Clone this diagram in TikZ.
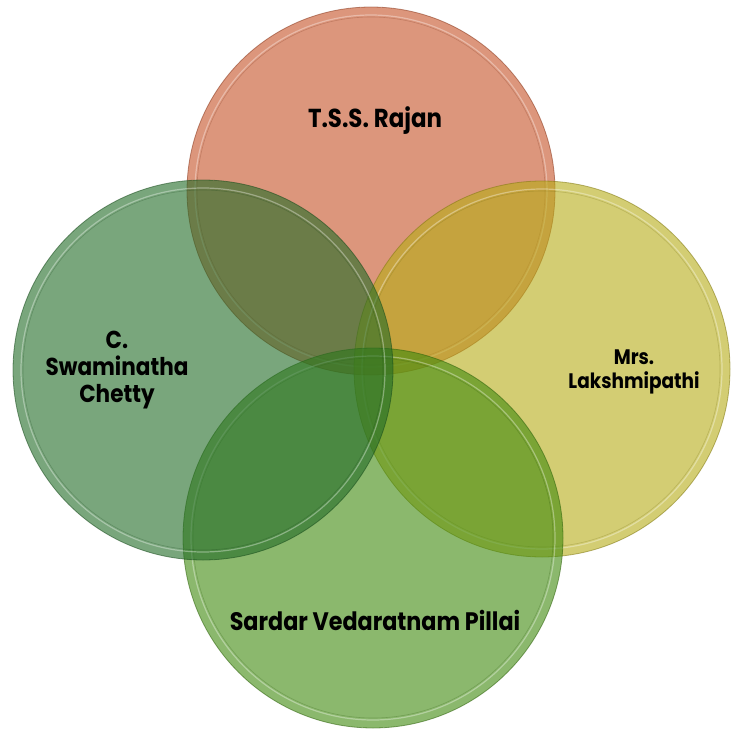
\documentclass[tikz,border=0pt]{standalone}
\usepackage{fontspec}
\setmainfont{Poppins}[BoldFont={Poppins Bold}]
\newfontfamily\labelfont{Poppins}[FakeStretch=0.88]
\definecolor{cTop}{RGB}{197,80,38}
\definecolor{cRight}{RGB}{183,172,22}
\definecolor{cBottom}{RGB}{63,138,13}
\definecolor{cLeft}{RGB}{33,107,38}
\tikzset{
  venn/.style={fill=#1, fill opacity=0.6, draw=#1!70!black, draw opacity=0.55, line width=0.8pt},
  rim/.style={draw=white, draw opacity=0.35, line width=1.2pt},
  rimdark/.style={draw=#1!60!black, draw opacity=0.25, line width=0.6pt},
  lbl/.style={text=black, align=center, inner sep=0pt},
}
\begin{document}
\begin{tikzpicture}[x=1pt, y=-1pt]
\useasboundingbox (0,0) rectangle (732,733);
\fill[white] (0,0) rectangle (732,733);
% top circle
\path[venn=cTop] (371,191) circle[radius=184];
\path[rim] (371,191) circle[radius=176];
\path[rimdark=cTop] (371,191) circle[radius=174];
% right circle
\path[venn=cRight] (542,369) circle[radius=188];
\path[rim] (542,369) circle[radius=180];
\path[rimdark=cRight] (542,369) circle[radius=178];
% bottom circle
\path[venn=cBottom] (373,538) circle[radius=190];
\path[rim] (373,538) circle[radius=182];
\path[rimdark=cBottom] (373,538) circle[radius=180];
% left circle
\path[venn=cLeft] (203,370) circle[radius=190];
\path[rim] (203,370) circle[radius=182];
\path[rimdark=cLeft] (203,370) circle[radius=180];
% labels
\node[lbl, font=\labelfont\bfseries\fontsize{26}{30}\selectfont] (tss) at (375,121) {T.S.S. Rajan};
\node[lbl, font=\labelfont\bfseries\fontsize{24.5}{27}\selectfont] (csc) at (117,370) {C.\\Swaminatha\\Chetty};
\node[lbl, font=\labelfont\bfseries\fontsize{21}{23.5}\selectfont] (lak) at (634,372) {Mrs.\\Lakshmipathi};
\node[lbl, font=\labelfont\bfseries\fontsize{25.3}{29}\selectfont] (svp) at (375,620) {Sardar Vedaratnam Pillai};
\end{tikzpicture}
\end{document}
